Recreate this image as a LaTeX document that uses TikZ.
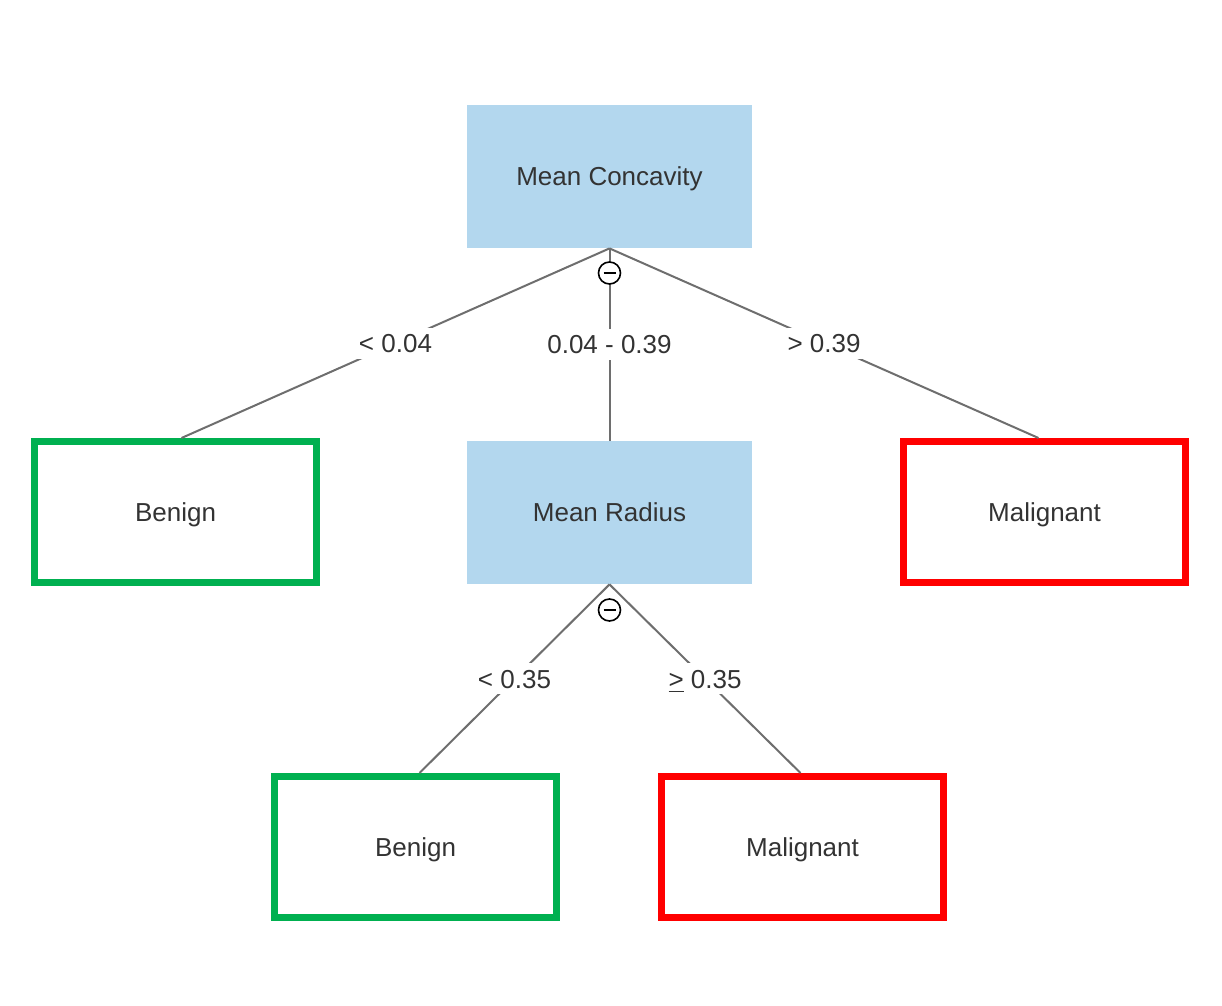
\documentclass[tikz,border=0pt]{standalone}
\usepackage{fontspec}
\setmainfont{Liberation Sans}
\definecolor{splitblue}{HTML}{B3D7EE}
\definecolor{benigngreen}{HTML}{00B050}
\definecolor{malignred}{HTML}{FF0000}
\definecolor{edgegray}{HTML}{6E6E6E}
\definecolor{txtgray}{HTML}{333333}
\begin{document}
\begin{tikzpicture}[x=0.5pt, y=-0.5pt,
  every node/.style={font=\fontsize{13}{15}\selectfont, text=txtgray, text height=9.4pt, text depth=0pt},
  split/.style={rectangle, fill=splitblue, minimum width=142.5pt, minimum height=71.5pt},
  leaf/.style={rectangle, draw, fill=white, line width=3.5pt, minimum width=141pt, minimum height=70.5pt},
  benign/.style={leaf, draw=benigngreen},
  malign/.style={leaf, draw=malignred},
  edge/.style={draw=edgegray, line width=1pt},
  lbl/.style={fill=white, inner sep=3pt},
  fold/.style={circle, draw=black, fill=white, line width=0.8pt, minimum size=11pt, inner sep=0pt, text height=0pt,
    path picture={\draw[line width=0.8pt] ([xshift=-3pt]path picture bounding box.center) -- ([xshift=3pt]path picture bounding box.center);}}]
\useasboundingbox (0,0) rectangle (1222,1006);
\node[split] (nid0) at (609.5,176.5){Mean Concavity};
\node[benign] (nid1) at (175.5,512){Benign};
\node[split] (nid2) at (609.5,512.5){Mean Radius};
\node[malign] (nid3) at (1044.5,512){Malignant};
\node[benign] (nid4) at (415.5,847){Benign};
\node[malign] (nid5) at (802.5,847){Malignant};
\draw[edge](nid0.south) -- node[lbl]{< 0.04} ([xshift=3pt]nid1.north);
\draw[edge](nid0.south) -- node[lbl]{0.04 - 0.39} (nid2.north);
\draw[edge](nid0.south) -- node[lbl]{> 0.39} ([xshift=-3pt]nid3.north);
\draw[edge](nid2.south) -- node[lbl]{< 0.35} ([xshift=2pt]nid4.north);
\draw[edge](nid2.south) -- node[lbl]{\underline{>} 0.35} ([xshift=-1pt]nid5.north);
\node[fold] (fid0) at (609.5,273){};
\node[fold] (fid2) at (609.5,610){};

\end{tikzpicture}
\end{document}
